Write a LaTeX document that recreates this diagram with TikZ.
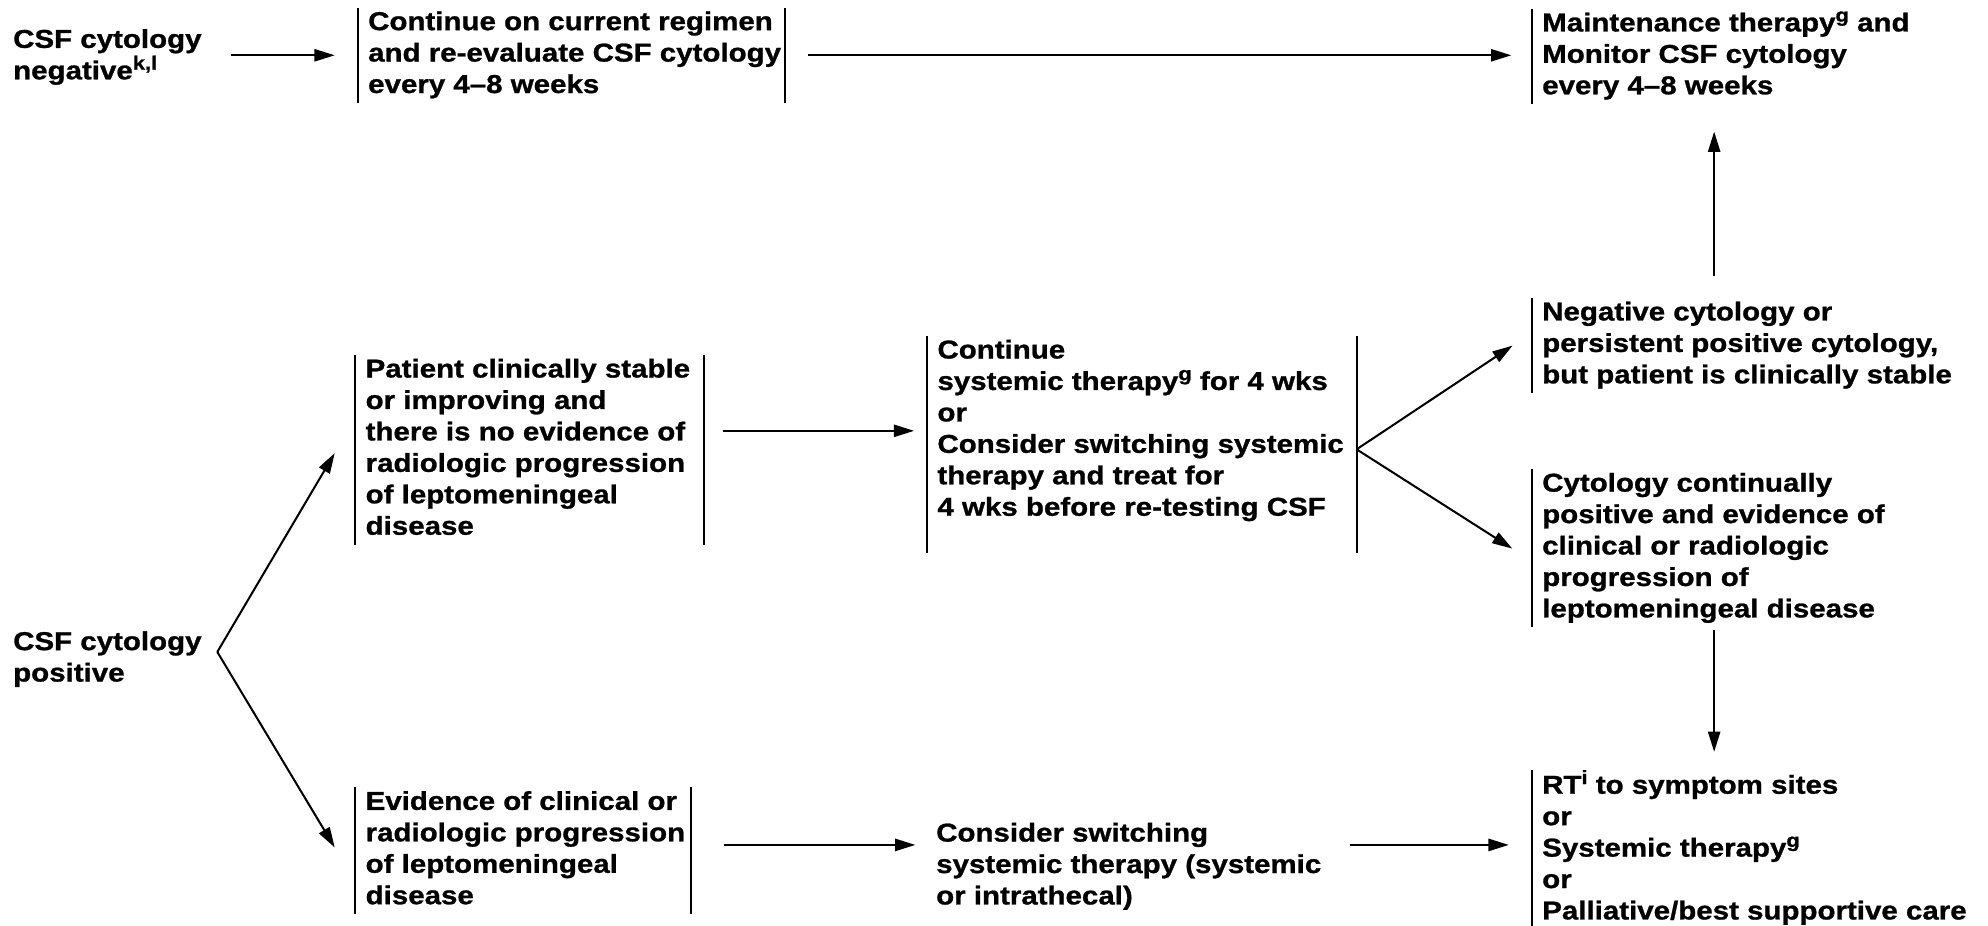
\documentclass[tikz,border=0pt]{standalone}
\usepackage{fontspec}
\setmainfont{Liberation Sans}[FakeStretch=1.14, FakeBold=1.0]
\usetikzlibrary{arrows.meta}

% raised footnote letters
\newcommand\fnsup[1]{\raisebox{3.8pt}{\fontsize{7.6}{8}\selectfont #1}}

\begin{document}
\begin{tikzpicture}[x=0.5pt,y=-0.5pt,
  txt/.style={anchor=north west, inner xsep=4pt, inner ysep=0pt, align=left,
    font=\fontsize{10.2}{12.4}\selectfont\bfseries,
    execute at begin node={\lineskiplimit=-20pt\relax}},
  arr/.style={line width=0.8pt, -{Triangle[length=8pt,width=4.8pt]}},
  bar/.style={line width=0.8pt}]
\useasboundingbox (0,0) rectangle (1568,730);

% text blocks
\node[txt] (neg) at (2,20) {\strut CSF cytology\\negative\fnsup{k,l}\strut};
\node[txt] (cont) at (282,6) {\strut Continue on current regimen\\and re-evaluate CSF cytology\\every 4--8 weeks\strut};
\node[txt] (maint) at (1208,7) {\strut Maintenance therapy\fnsup{g} and\\Monitor CSF cytology\\every 4--8 weeks\strut};
\node[txt] (negcyt) at (1208,235) {\strut Negative cytology or\\persistent positive cytology,\\but patient is clinically stable\strut};
\node[txt] (cytcont) at (1208,370) {\strut Cytology continually\\positive and evidence of\\clinical or radiologic\\progression of\\leptomeningeal disease\strut};
\node[txt] (rt) at (1208,607) {\strut RT\fnsup{i} to symptom sites\\or\\Systemic therapy\fnsup{g}\\or\\Palliative/best supportive care\strut};
\node[txt] (pos) at (2,495) {\strut CSF cytology\\positive\strut};
\node[txt] (stable) at (280,280) {\strut Patient clinically stable\\or improving and\\there is no evidence of\\radiologic progression\\of leptomeningeal\\disease\strut};
\node[txt] (contsys) at (731,265) {\strut Continue\\systemic therapy\fnsup{g} for 4 wks\\or\\Consider switching systemic\\therapy and treat for\\4 wks before re-testing CSF\strut};
\node[txt] (evid) at (280,621) {\strut Evidence of clinical or\\radiologic progression\\of leptomeningeal\\disease\strut};
\node[txt] (consider) at (730,646) {\strut Consider switching\\systemic therapy (systemic\\or intrathecal)\strut};

% bars beside the text blocks
\draw[bar] (cont.north west) -- (cont.south west);
\draw[bar] ([xshift=168.5pt]cont.north west) -- ([xshift=168.5pt]cont.south west);
\draw[bar] (maint.north west) -- (maint.south west);
\draw[bar] (negcyt.north west) -- (negcyt.south west);
\draw[bar] (cytcont.north west) -- (cytcont.south west);
\draw[bar] (rt.north west) -- (rt.south west);
\draw[bar] (stable.north west) -- (stable.south west);
\draw[bar] ([xshift=137.5pt]stable.north west) -- ([xshift=137.5pt]stable.south west);
\draw[bar] (contsys.north west) -- ([yshift=-10.7pt]contsys.south west);
\draw[bar] ([xshift=169.5pt]contsys.north west) -- ([xshift=169.5pt,yshift=-10.7pt]contsys.south west);
\draw[bar] (evid.north west) -- (evid.south west);
\draw[bar] ([xshift=132.5pt]evid.north west) -- ([xshift=132.5pt]evid.south west);

% branch points and bar-side anchors
\coordinate (fork1) at ([xshift=2pt,yshift=3pt]pos.east);
\coordinate (fork2) at ([xshift=169.5pt,yshift=-7.3pt]contsys.west);
\coordinate (contR) at ([xshift=168.5pt]cont.west);
\coordinate (stableR) at ([xshift=137.5pt]stable.west);
\coordinate (evidR) at ([xshift=132.5pt,yshift=2.3pt]evid.west);

% connectors
\draw[arr, shorten <=7.5pt, shorten >=9pt] (neg.east |- cont.west) -- (cont.west);
\draw[arr, shorten <=9pt, shorten >=8pt] (contR) -- (contR -| maint.west);
\draw[arr, shorten <=8.5pt, shorten >=10.8pt] ([xshift=72pt]negcyt.north west) -- ([xshift=72pt]maint.south west);
\draw[arr, shorten <=1pt, shorten >=7pt] ([xshift=72pt]cytcont.south west) -- ([xshift=72pt]rt.north west);
\draw[arr] (fork1) -- ([xshift=-8pt,yshift=-1.3pt]stable.west);
\draw[arr] (fork1) -- ([xshift=-8pt,yshift=1.3pt]evid.west);
\draw[arr, shorten <=7.5pt, shorten >=5pt] (contsys.west -| stableR) -- (contsys.west);
\draw[arr, shorten >=9pt] (fork2) -- ([yshift=5pt]negcyt.west);
\draw[arr, shorten >=9pt] (fork2) -- ([yshift=-5pt]cytcont.west);
\draw[arr, shorten <=13pt, shorten >=4pt] (evidR) -- (evidR -| consider.west);
\draw[arr, shorten <=7pt, shorten >=9pt] (consider.east |- evidR) -- (rt.west |- evidR);
\end{tikzpicture}
\end{document}
